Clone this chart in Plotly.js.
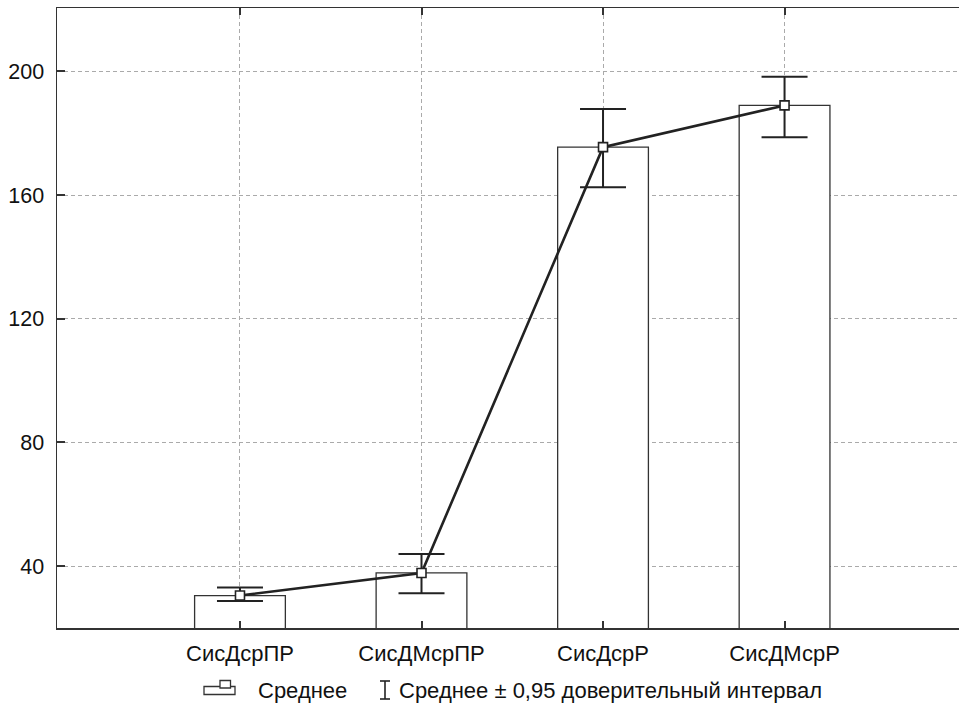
<!DOCTYPE html>
<html>
<head>
<meta charset="utf-8">
<script src="https://cdn.plot.ly/plotly-3.0.1.min.js"></script>
<style>html,body{margin:0;padding:0;background:#fff;}#chart{width:959px;height:705px;}</style>
</head>
<body>
<div id="chart"></div>
<script>
var categories = ["СисДсрПР", "СисДМсрПР", "СисДсрР", "СисДМсрР"];
var means = [30.5, 37.8, 175.5, 189.0];
var ciUpper = [33.1, 43.9, 187.8, 198.3];
var ciLower = [28.7, 31.2, 162.5, 178.7];
var yTicks = [40, 80, 120, 160, 200];
var legendMean = "Среднее";
var legendCI = "Среднее ± 0,95 доверительный интервал";

var errPlus = means.map(function(m, i){ return ciUpper[i] - m; });
var errMinus = means.map(function(m, i){ return m - ciLower[i]; });
var xIdx = categories.map(function(c, i){ return i; });

var FONT = "Liberation Sans, Arial, sans-serif";
var DARK = "#222";

var bars = {
  type: "bar", x: xIdx, y: means, width: 0.5,
  marker: {color: "#fff", line: {color: "#333", width: 1.3}},
  hoverinfo: "skip", showlegend: false
};
var line = {
  type: "scatter", mode: "lines+markers", x: xIdx, y: means,
  line: {color: DARK, width: 2.6},
  marker: {symbol: "square", size: 9, color: "#fff", line: {color: DARK, width: 1.6}},
  error_y: {type: "data", symmetric: false, array: errPlus, arrayminus: errMinus,
            color: DARK, thickness: 2, width: 23},
  showlegend: false
};

function px2x(p){ return (p - 57) / 902; }
function px2y(p){ return (628 - p) / 620; }

var shapes = [
  {type: "rect", xref: "paper", yref: "paper", x0: px2x(204), x1: px2x(235), y0: px2y(694.5), y1: px2y(686.5),
   fillcolor: "#fff", line: {color: "#333", width: 1.3}},
  {type: "rect", xref: "paper", yref: "paper", x0: px2x(220), x1: px2x(230.5), y0: px2y(688), y1: px2y(680.5),
   fillcolor: "#fff", line: {color: "#333", width: 1.3}},
  {type: "line", xref: "paper", yref: "paper", x0: px2x(385), x1: px2x(385), y0: px2y(681), y1: px2y(699),
   line: {color: DARK, width: 1.6}},
  {type: "line", xref: "paper", yref: "paper", x0: px2x(380), x1: px2x(390), y0: px2y(681), y1: px2y(681),
   line: {color: DARK, width: 1.6}},
  {type: "line", xref: "paper", yref: "paper", x0: px2x(380), x1: px2x(390), y0: px2y(699), y1: px2y(699),
   line: {color: DARK, width: 1.6}}
];

var annotations = [
  {xref: "paper", yref: "paper", x: px2x(256), y: px2y(690), xanchor: "left", yanchor: "middle",
   text: legendMean, showarrow: false, font: {family: FONT, size: 22, color: "#111"}},
  {xref: "paper", yref: "paper", x: px2x(397), y: px2y(690), xanchor: "left", yanchor: "middle",
   text: legendCI, showarrow: false, font: {family: FONT, size: 22, color: "#111"}}
];

var layout = {
  width: 959, height: 705,
  margin: {l: 57, r: 0, t: 8, b: 77},
  paper_bgcolor: "#fff", plot_bgcolor: "#fff",
  font: {family: FONT, size: 22, color: "#111"},
  showlegend: false,
  xaxis: {
    range: [-1.008, 3.961], tickmode: "array", tickvals: xIdx, ticktext: categories,
    showline: true, linecolor: "#333", linewidth: 1.5, mirror: "ticks",
    ticks: "inside", ticklen: 7, tickwidth: 2, tickcolor: "#333",
    showgrid: true, gridcolor: "#aaa", gridwidth: 1, griddash: "4px,3px",
    zeroline: false, ticklabelstandoff: 5,
    tickfont: {family: FONT, size: 22, color: "#111"}
  },
  yaxis: {
    range: [20, 220.5], tickmode: "array", tickvals: yTicks,
    showline: true, linecolor: "#333", linewidth: 1.5, mirror: false,
    ticks: "inside", ticklen: 8, tickwidth: 2, tickcolor: "#333",
    showgrid: true, gridcolor: "#aaa", gridwidth: 1, griddash: "4px,3px",
    zeroline: false, ticklabelstandoff: 7,
    tickfont: {family: FONT, size: 21.5, color: "#111"}
  },
  shapes: shapes,
  annotations: annotations
};

Plotly.newPlot("chart", [bars, line], layout, {displayModeBar: false, staticPlot: true});
</script>
</body>
</html>
